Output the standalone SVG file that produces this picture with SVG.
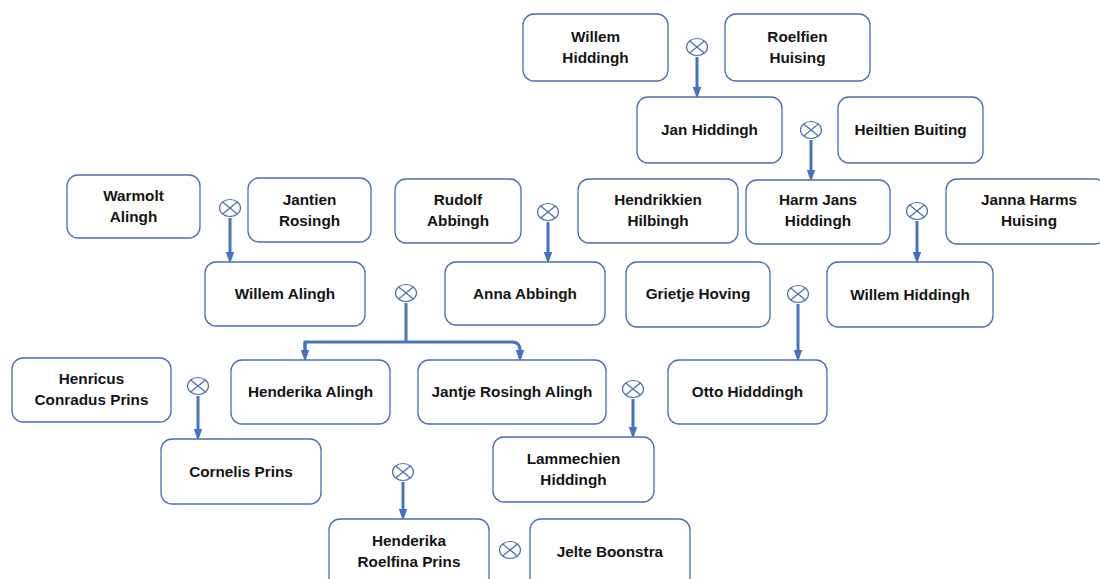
<svg xmlns="http://www.w3.org/2000/svg" width="1100" height="579" viewBox="0 0 1100 579">
<style>
.b{fill:#fff;stroke:#4a6fb0;stroke-width:1.3}
.t{font-family:"Liberation Sans",Arial,sans-serif;font-weight:bold;font-size:15.3px;fill:#141414;text-anchor:middle}
.c{fill:none;stroke:#4472c4;stroke-width:3}
.m{fill:#fff;stroke:#4a6fb0;stroke-width:1.2}
</style>
<defs>
<marker id="a" markerWidth="4" markerHeight="4" refX="2" refY="2" orient="auto" markerUnits="strokeWidth" viewBox="0 0 4 4"><path d="M0,0.6 L4,2 L0,3.4 Z" fill="#4472c4"/></marker>
<g id="ms"><ellipse class="m" cx="0" cy="0" rx="10.5" ry="8.5"/><path class="m" d="M-7.4,-6 L7.4,6 M-7.4,6 L7.4,-6"/></g>
</defs>
<rect width="1100" height="579" fill="#fff"/>
<g id="connectors">
<path class="c" d="M697,57 V93" marker-end="url(#a)"/>
<path class="c" d="M811,140 V176" marker-end="url(#a)"/>
<path class="c" d="M230,218 V258" marker-end="url(#a)"/>
<path class="c" d="M548,222 V258" marker-end="url(#a)"/>
<path class="c" d="M917,221 V258" marker-end="url(#a)"/>
<path class="c" d="M406,303 V342"/>
<path class="c" d="M305,356 V342 H512 Q520,342 520,350 V356" marker-end="url(#a)"/>
<path class="c" d="M305,342 V356" marker-end="url(#a)"/>
<path class="c" d="M798,304 V356" marker-end="url(#a)"/>
<path class="c" d="M198,396 V435" marker-end="url(#a)"/>
<path class="c" d="M633,399 V433" marker-end="url(#a)"/>
<path class="c" d="M403,482 V515" marker-end="url(#a)"/>
</g>
<g id="marriages">
<use href="#ms" x="697" y="47"/>
<use href="#ms" x="811" y="130"/>
<use href="#ms" x="230" y="208"/>
<use href="#ms" x="548" y="212"/>
<use href="#ms" x="917" y="211"/>
<use href="#ms" x="406" y="293"/>
<use href="#ms" x="798" y="294"/>
<use href="#ms" x="198" y="386"/>
<use href="#ms" x="633" y="389"/>
<use href="#ms" x="403" y="472"/>
<use href="#ms" x="510" y="550"/>
</g>
<g id="n1"><rect class="b" x="523" y="14" width="145" height="67" rx="11"/><text class="t" x="595.5" y="42">Willem</text><text class="t" x="595.5" y="63">Hiddingh</text></g>
<g id="n2"><rect class="b" x="725" y="14" width="145" height="67" rx="11"/><text class="t" x="797.5" y="42">Roelfien</text><text class="t" x="797.5" y="63">Huising</text></g>
<g id="n3"><rect class="b" x="637" y="97" width="145" height="66" rx="11"/><text class="t" x="709.5" y="135">Jan Hiddingh</text></g>
<g id="n4"><rect class="b" x="838" y="97" width="145" height="66" rx="11"/><text class="t" x="910.5" y="135">Heiltien Buiting</text></g>
<g id="n5"><rect class="b" x="67" y="175" width="133" height="63" rx="11"/><text class="t" x="133.5" y="201">Warmolt</text><text class="t" x="133.5" y="222">Alingh</text></g>
<g id="n6"><rect class="b" x="248" y="178" width="123" height="64" rx="11"/><text class="t" x="309.5" y="205">Jantien</text><text class="t" x="309.5" y="226">Rosingh</text></g>
<g id="n7"><rect class="b" x="395" y="179" width="126" height="64" rx="11"/><text class="t" x="458" y="205">Rudolf</text><text class="t" x="458" y="226">Abbingh</text></g>
<g id="n8"><rect class="b" x="578" y="179" width="160" height="64" rx="11"/><text class="t" x="658" y="205">Hendrikkien</text><text class="t" x="658" y="226">Hilbingh</text></g>
<g id="n9"><rect class="b" x="746" y="180" width="144" height="64" rx="11"/><text class="t" x="818" y="205">Harm Jans</text><text class="t" x="818" y="226">Hiddingh</text></g>
<g id="n10"><rect class="b" x="946" y="179" width="160" height="65" rx="11"/><text class="t" x="1029" y="205">Janna Harms</text><text class="t" x="1029" y="226">Huising</text></g>
<g id="n11"><rect class="b" x="205" y="262" width="160" height="64" rx="11"/><text class="t" x="285" y="299">Willem Alingh</text></g>
<g id="n12"><rect class="b" x="445" y="262" width="160" height="63" rx="11"/><text class="t" x="525" y="299">Anna Abbingh</text></g>
<g id="n13"><rect class="b" x="626" y="262" width="144" height="65" rx="11"/><text class="t" x="698" y="299">Grietje Hoving</text></g>
<g id="n14"><rect class="b" x="827" y="262" width="166" height="65" rx="11"/><text class="t" x="910" y="300">Willem Hiddingh</text></g>
<g id="n15"><rect class="b" x="12" y="358" width="159" height="64" rx="11"/><text class="t" x="91.5" y="384">Henricus</text><text class="t" x="91.5" y="405">Conradus Prins</text></g>
<g id="n16"><rect class="b" x="231" y="360" width="159" height="64" rx="11"/><text class="t" x="310.5" y="397">Henderika Alingh</text></g>
<g id="n17"><rect class="b" x="418" y="360" width="188" height="64" rx="11"/><text class="t" x="512" y="397">Jantje Rosingh Alingh</text></g>
<g id="n18"><rect class="b" x="668" y="360" width="159" height="64" rx="11"/><text class="t" x="747.5" y="397">Otto Hidddingh</text></g>
<g id="n19"><rect class="b" x="161" y="439" width="160" height="65" rx="11"/><text class="t" x="241" y="477">Cornelis Prins</text></g>
<g id="n20"><rect class="b" x="493" y="437" width="161" height="65" rx="11"/><text class="t" x="573.5" y="464">Lammechien</text><text class="t" x="573.5" y="485">Hiddingh</text></g>
<g id="n21"><rect class="b" x="329" y="519" width="160" height="70" rx="11"/><text class="t" x="409" y="546">Henderika</text><text class="t" x="409" y="567">Roelfina Prins</text></g>
<g id="n22"><rect class="b" x="530" y="519" width="160" height="70" rx="11"/><text class="t" x="610" y="557">Jelte Boonstra</text></g>
</svg>
